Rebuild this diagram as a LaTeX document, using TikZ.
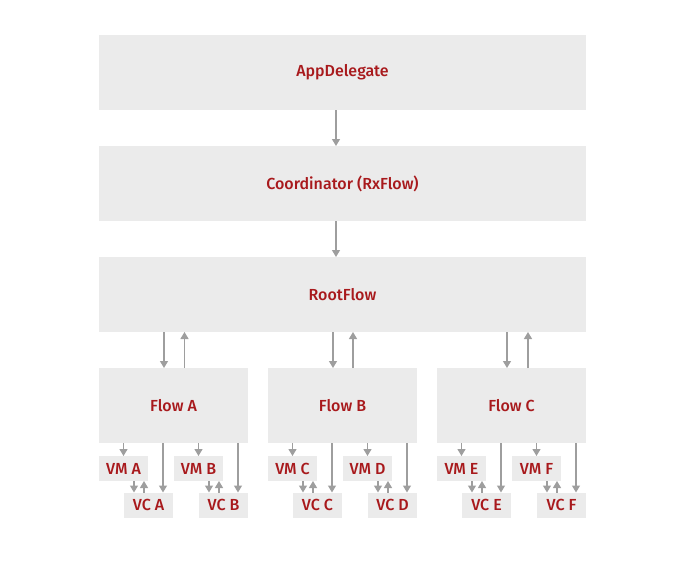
\documentclass[tikz,border=0pt]{standalone}
\usepackage{fontspec}
\setmainfont{Fira Sans}[BoldFont={Fira Sans Medium}]
\usetikzlibrary{arrows.meta}
\definecolor{boxgray}{HTML}{EBEBEB}
\definecolor{labelred}{HTML}{A8191C}
\definecolor{arrowgray}{HTML}{9E9E9E}
\tikzset{
  layer/.style={fill=boxgray, inner sep=0pt, outer sep=0pt, minimum width=487pt,
    minimum height=75pt, text=labelred, font=\fontsize{16}{18}\selectfont\bfseries},
  flowbox/.style={layer, minimum width=149pt},
  smallbox/.style={layer, minimum width=49pt, minimum height=25pt},
  arr/.style={arrowgray, line width=1.2pt, -{Triangle[width=8pt,length=7pt]}}
}
\begin{document}
\begin{tikzpicture}[x=1pt,y=-1pt]
				\useasboundingbox (0,0) rectangle (679,560);
				
				\node[layer] (app) at (342.5,72.5) {AppDelegate};
				\node[layer] (coord) at (342.5,183.5) {Coordinator (RxFlow)};
				\node[layer] (root) at (342.5,294.5) {RootFlow};
				
				\coordinate (appout) at ([xshift=-6.5pt]app.south);
				\coordinate (coordout) at ([xshift=-6.5pt]coord.south);
				\draw[arr] (appout) -- (appout |- coord.north);
				\draw[arr] (coordout) -- (coordout |- root.north);
				
				\foreach \f/\off/\dn/\up/\va/\vb in {A/0/-9.5/11/A/B, B/169/-9.5/10.5/C/D, C/338/-4.5/16.5/E/F} {
					\node[flowbox] (flow\f) at (173.5+\off,405.5) {Flow \f};
					\coordinate (down\f) at ([xshift=\dn pt]flow\f.north);
					\coordinate (up\f) at ([xshift=\up pt]flow\f.north);
					\draw[arr] (down\f |- root.south) -- (down\f);
					\draw[arr] (up\f) -- (up\f |- root.south);
					
					\foreach \v/\dx in {\va/0, \vb/75} {
						\node[smallbox] (vm\v) at (123.5+\off+\dx,468.5) {VM \v};
						\node[smallbox] (vc\v) at (148.5+\off+\dx,505) {VC \v};
						\coordinate (tovc\v) at ([xshift=14.5pt]vc\v.north);
						\coordinate (vmdown\v) at ([xshift=10.5pt]vm\v.south);
						\coordinate (vmup\v) at ([xshift=20.5pt]vm\v.south);
						\draw[arr] (flow\f.south -| vm\v.north) -- (vm\v.north);
						\draw[arr] (tovc\v |- flow\f.south) -- (tovc\v);
						\draw[arr] (vmdown\v) -- (vmdown\v |- vc\v.north);
						\draw[arr] (vmup\v |- vc\v.north) -- (vmup\v);
					}
				}
\end{tikzpicture}
\end{document}
